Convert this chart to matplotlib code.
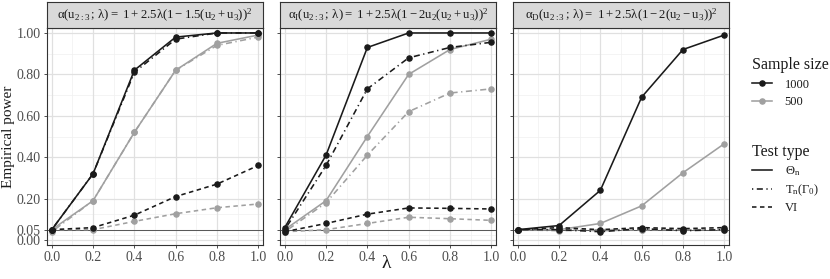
import matplotlib
matplotlib.use("Agg")
import matplotlib.pyplot as plt
from matplotlib.lines import Line2D
import matplotlib.transforms as mtransforms

plt.rcParams['font.family'] = ['Liberation Serif', 'DejaVu Serif']
plt.rcParams['mathtext.fontset'] = 'custom'
plt.rcParams['mathtext.rm'] = 'Liberation Serif'
plt.rcParams['mathtext.it'] = 'Liberation Serif'
plt.rcParams['mathtext.bf'] = 'Liberation Serif:bold'
plt.rcParams['mathtext.fallback'] = 'stix'

lam = [0.0, 0.2, 0.4, 0.6, 0.8, 1.0]

titles = [
    r"$\alpha(\mathrm{u}_{2:3}\,;\,\lambda) = \ 1 + 2.5\lambda(1 - 1.5(\mathrm{u}_2 + \mathrm{u}_3))^2$",
    r"$\alpha_{\mathrm{I}}(\mathrm{u}_{2:3}\,;\,\lambda) = \ 1 + 2.5\lambda(1 - 2\mathrm{u}_2(\mathrm{u}_2 + \mathrm{u}_3))^2$",
    r"$\alpha_{\mathrm{D}}(\mathrm{u}_{2:3}\,;\,\lambda) = \ 1 + 2.5\lambda(1 - 2(\mathrm{u}_2 - \mathrm{u}_3))^2$",
]

# Panel 1
p1_theta_1000 = [0.05, 0.32, 0.82, 0.98, 1.00, 1.00]
p1_theta_500 = [0.05, 0.19, 0.52, 0.82, 0.95, 0.99]
p1_tn_1000 = [0.05, 0.32, 0.81, 0.97, 1.00, 1.00]
p1_tn_500 = [0.04, 0.19, 0.52, 0.82, 0.94, 0.98]
p1_vi_1000 = [0.05, 0.06, 0.12, 0.21, 0.27, 0.36]
p1_vi_500 = [0.05, 0.05, 0.09, 0.127, 0.156, 0.174]

# Panel 2
p2_theta_1000 = [0.06, 0.41, 0.93, 1.00, 1.00, 1.00]
p2_theta_500 = [0.05, 0.19, 0.50, 0.80, 0.92, 0.97]
p2_tn_1000 = [0.05, 0.36, 0.73, 0.88, 0.93, 0.955]
p2_tn_500 = [0.04, 0.18, 0.41, 0.62, 0.71, 0.73]
p2_vi_1000 = [0.04, 0.08, 0.125, 0.155, 0.153, 0.15]
p2_vi_500 = [0.04, 0.05, 0.08, 0.11, 0.103, 0.095]

# Panel 3
p3_theta_1000 = [0.05, 0.07, 0.24, 0.69, 0.92, 0.99]
p3_theta_500 = [0.05, 0.05, 0.08, 0.165, 0.325, 0.465]
p3_tn_1000 = [0.05, 0.05, 0.04, 0.055, 0.045, 0.05]
p3_tn_500 = [0.05, 0.045, 0.05, 0.05, 0.05, 0.05]
p3_vi_1000 = [0.05, 0.06, 0.05, 0.06, 0.055, 0.06]
p3_vi_500 = [0.05, 0.05, 0.045, 0.05, 0.05, 0.05]

panels = [
    {"theta": (p1_theta_1000, p1_theta_500), "tn": (p1_tn_1000, p1_tn_500), "vi": (p1_vi_1000, p1_vi_500)},
    {"theta": (p2_theta_1000, p2_theta_500), "tn": (p2_tn_1000, p2_tn_500), "vi": (p2_vi_1000, p2_vi_500)},
    {"theta": (p3_theta_1000, p3_theta_500), "tn": (p3_tn_1000, p3_tn_500), "vi": (p3_vi_1000, p3_vi_500)},
]

yticks = [0.00, 0.05, 0.20, 0.40, 0.60, 0.80, 1.00]
ytick_labels = ["0.00", "0.05", "0.20", "0.40", "0.60", "0.80", "1.00"]
xticks = [0.0, 0.2, 0.4, 0.6, 0.8, 1.0]
xtick_labels = ["0.0", "0.2", "0.4", "0.6", "0.8", "1.0"]
yminor = [0.025, 0.125, 0.3, 0.5, 0.7, 0.9]
xminor = [0.1, 0.3, 0.5, 0.7, 0.9]

BLACK = "#1a1a1a"
GREY = "#a0a0a0"
colors = [BLACK, GREY]
styles = {
    "theta": "-",
    "tn": (0, (0.8, 2.2, 3.8, 2.2)),
    "vi": (0, (2.8, 2.2)),
}
LW = 1.15
MS = 3.7

W, H = 830, 279
fig = plt.figure(figsize=(W / 100, H / 100), dpi=100)

lefts = [47, 280, 513]
width = 216
top_px, bot_px = 28, 245
strip_top = 2

for i, pdata in enumerate(panels):
    ax = fig.add_axes([lefts[i] / W, 1 - bot_px / H, width / W, (bot_px - top_px) / H])
    ax.set_xlim(-0.023, 1.023)
    ax.set_ylim(-0.024, 1.024)
    ax.set_facecolor("white")
    for yv in yminor:
        ax.axhline(yv, color="#f0f0f0", lw=0.5, zorder=0)
    for xv in xminor:
        ax.axvline(xv, color="#f0f0f0", lw=0.5, zorder=0)
    for yv in yticks:
        ax.axhline(yv, color="#e0e0e0", lw=0.9, zorder=0)
    for xv in xticks:
        ax.axvline(xv, color="#e0e0e0", lw=0.9, zorder=0)
    ax.axhline(0.05, color="#555555", lw=0.7, zorder=1)
    for key in ["vi", "tn", "theta"]:
        for j in [1, 0]:
            ax.plot(lam, pdata[key][j], color=colors[j], linestyle=styles[key],
                    lw=LW, marker="o", markersize=MS, zorder=3 if j == 0 else 2)
    ax.set_xticks(xticks)
    ax.set_xticklabels(xtick_labels)
    ax.set_yticks(yticks)
    if i == 0:
        ax.set_yticklabels(ytick_labels)
        labs = ax.get_yticklabels()
        labs[0].set_transform(labs[0].get_transform() +
                              mtransforms.ScaledTranslation(0, -2 / 100, fig.dpi_scale_trans))
        labs[1].set_transform(labs[1].get_transform() +
                              mtransforms.ScaledTranslation(0, 2 / 100, fig.dpi_scale_trans))
    else:
        ax.set_yticklabels([])
    ax.tick_params(axis="both", labelsize=10, colors="#333333", labelcolor="#4d4d4d",
                   length=2.5, width=0.6, pad=2)
    for s in ax.spines.values():
        s.set_color("#333333")
        s.set_linewidth(0.8)
    sax = fig.add_axes([lefts[i] / W, 1 - top_px / H, width / W, (top_px - strip_top) / H])
    sax.set_facecolor("#d9d9d9")
    sax.set_xticks([])
    sax.set_yticks([])
    for s in sax.spines.values():
        s.set_color("#333333")
        s.set_linewidth(0.8)
    sax.text(0.5, 0.47, titles[i], ha="center", va="center", fontsize=9.2,
             color="#1a1a1a", transform=sax.transAxes)

fig.text(9 / W, 1 - 137 / H, "Empirical power", rotation=90, ha="center", va="center",
         fontsize=11, color="#1a1a1a")
fig.text(387 / W, 1 - 264 / H, r"$\lambda$", ha="center", va="center", fontsize=14, color="#1a1a1a")

h_size = [Line2D([], [], color=BLACK, lw=LW, marker="o", markersize=MS),
          Line2D([], [], color=GREY, lw=LW, marker="o", markersize=MS)]
leg1 = fig.legend(h_size, ["1000", "500"], title="Sample size", loc="upper left",
                  bbox_to_anchor=(747 / W, 1 - 52 / H), frameon=False, fontsize=9,
                  title_fontsize=11.5, alignment="left", handlelength=1.6,
                  handletextpad=1.0, labelspacing=0.45, borderaxespad=0)
h_type = [Line2D([], [], color=BLACK, lw=LW, linestyle=styles["theta"]),
          Line2D([], [], color=BLACK, lw=LW, linestyle=styles["tn"]),
          Line2D([], [], color=BLACK, lw=LW, linestyle=styles["vi"])]
leg2 = fig.legend(h_type, [r"$\Theta_{\mathrm{n}}$", r"$\mathrm{T}_{\mathrm{n}}(\Gamma_0)$", "VI"],
                  title="Test type", loc="upper left",
                  bbox_to_anchor=(747 / W, 1 - 139 / H), frameon=False, fontsize=9,
                  title_fontsize=11.5, alignment="left", handlelength=1.6,
                  handletextpad=1.0, labelspacing=0.35, borderaxespad=0)
for leg in (leg1, leg2):
    leg.get_title().set_color("#1a1a1a")
    for t in leg.get_texts():
        t.set_color("#1a1a1a")

fig.savefig("out.png", dpi=100)
